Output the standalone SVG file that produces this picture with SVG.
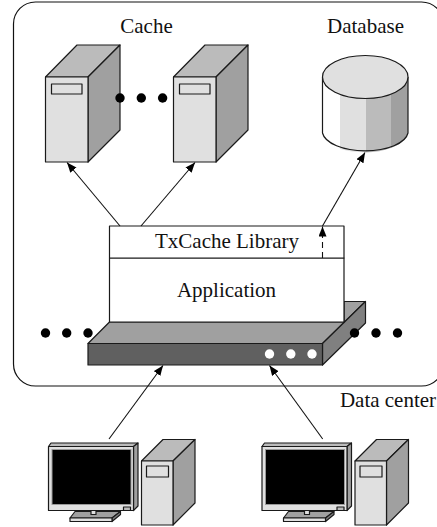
<svg xmlns="http://www.w3.org/2000/svg" width="437" height="527" viewBox="0 0 437 527">
<style>
text{font-family:"Liberation Serif","Times New Roman",serif;font-size:21px;fill:#111;text-anchor:middle}
.s{stroke:#1a1a1a;stroke-width:1.200;stroke-linejoin:round}
.c{stroke:#111;stroke-width:1.100;fill:none}
.d{fill:#000}
.w{fill:#fff}
</style>
<defs>
<marker id="a" markerUnits="userSpaceOnUse" markerWidth="12" markerHeight="10" refX="10" refY="4" orient="auto"><path d="M0 0L10 4L0 8z" fill="#000"/></marker>
<g id="tw">
<path class="s" d="M45.500 77L77 45H120L88 77z" fill="#bbb"/>
<path class="s" d="M88 77L120 45V130L88 162z" fill="#a0a0a0"/>
<rect class="s" x="45.500" y="77" width="42.500" height="85" fill="#e0e0e0"/>
<rect class="s" x="51.500" y="84" width="30.500" height="10" fill="#e0e0e0"/>
</g>
<g id="pc">
<path class="s" d="M48.500 446.500L51 443H138L133.500 446.500z" fill="#bbb"/>
<path class="s" d="M133.500 446.500L138 443V506L133.500 510.500z" fill="#a0a0a0"/>
<path class="s" d="M70 518L75 511.500H120.500L112 518z" fill="#a0a0a0"/>
<path class="s" d="M112 518L120.500 511.500V514.500L112 521.500z" fill="#808080"/>
<rect x="70" y="518" width="42" height="3.500" class="s" fill="#e0e0e0"/>
<rect class="s" x="48.500" y="446.500" width="85" height="64" fill="#e0e0e0"/>
<rect x="52" y="449.500" width="79" height="55" fill="#000" stroke="#999"/>
<rect class="s" x="91" y="510.500" width="5" height="4" fill="#e0e0e0"/>
<rect class="s" x="123.500" y="507" width="7" height="3.500" fill="#bbb"/>
<path class="s" d="M141.500 461L163 439.500H195L173 461z" fill="#bbb"/>
<path class="s" d="M173 461L195 439.500V503L173 525z" fill="#a0a0a0"/>
<rect class="s" x="141.500" y="461" width="31.500" height="64" fill="#e0e0e0"/>
<rect class="s" x="146.500" y="466" width="22" height="11" fill="#e0e0e0"/>
</g>
</defs>
<rect width="437" height="527" fill="#fff"/>
<rect id="boundary" x="13.500" y="2" width="430" height="384" rx="22" ry="22" fill="none" stroke="#111" stroke-width="1.200"/>
<g id="cache-1"><use href="#tw"/></g>
<g id="cache-2"><use href="#tw" x="128"/></g>
<g id="cache-dots"><circle class="d" cx="120" cy="98" r="4.700"/><circle class="d" cx="141.300" cy="98" r="4.700"/><circle class="d" cx="162.600" cy="98" r="4.700"/></g>
<g id="database">
<path d="M322.500 77V133A43 20 0 0 0 408 133V77z" fill="#fff"/>
<path d="M340 77H366V152.500Q350 152 340 149z" fill="#e0e0e0"/>
<path d="M366 77H391V148Q380 152 366 152.500z" fill="#bbb"/>
<path d="M391 77H408V133Q405 143 391 148z" fill="#a0a0a0"/>
<path d="M322.500 77V133A43 20 0 0 0 408 133V77" fill="none" class="s"/>
<ellipse class="s" cx="365.250" cy="77" rx="42.750" ry="21.500" fill="#e0e0e0"/>
</g>
<g id="switch">
<path class="s" d="M88 343.500L109.500 322H344V301.500H365.500L322.500 343.500z" fill="#a0a0a0"/>
<path class="s" d="M322.500 343.500L365.500 301.500V323L322.500 365z" fill="#808080"/>
<rect class="s" x="88" y="343.500" width="234.500" height="21.500" fill="#606060"/>
<circle class="w" cx="269.500" cy="354" r="4.700"/><circle class="w" cx="290.800" cy="354" r="4.700"/><circle class="w" cx="312" cy="354" r="4.700"/>
</g>
<g id="application"><rect class="s" x="109.500" y="258" width="234.500" height="64" fill="#fff"/><text x="226.500" y="297">Application</text></g>
<g id="library"><rect class="s" x="109.500" y="226" width="234.500" height="32" fill="#fff"/><text x="227" y="248">TxCache Library</text></g>
<g id="net-dots"><circle class="d" cx="45.500" cy="333" r="4.700"/><circle class="d" cx="66.700" cy="333" r="4.700"/><circle class="d" cx="88" cy="333" r="4.700"/><circle class="d" cx="354.500" cy="333" r="4.700"/><circle class="d" cx="376" cy="333" r="4.700"/><circle class="d" cx="397.500" cy="333" r="4.700"/></g>
<g id="client-1"><use href="#pc"/></g>
<g id="client-2"><use href="#pc" x="213.500"/></g>
<g id="connectors">
<path class="c" d="M120 226L67 162.500" marker-end="url(#a)"/>
<path class="c" d="M141 226L195 162.500" marker-end="url(#a)"/>
<path class="c" d="M322.500 226L365 152.500" marker-end="url(#a)"/>
<path class="c" d="M322.500 258V226.500" stroke-dasharray="6 4" marker-end="url(#a)"/>
<path class="c" d="M109 439L163 365.500" marker-end="url(#a)"/>
<path class="c" d="M322.700 439L269.500 365.500" marker-end="url(#a)"/>
</g>
<text x="146.500" y="33">Cache</text>
<text x="365.500" y="33">Database</text>
<text x="388" y="407">Data center</text>
</svg>
